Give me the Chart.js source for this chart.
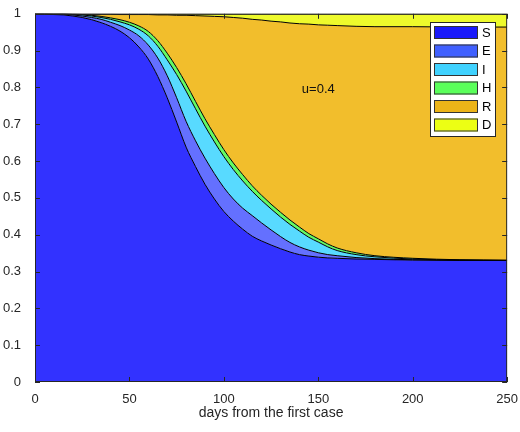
<!DOCTYPE html>
<html>
<head>
<meta charset="utf-8">
<script src="https://cdn.jsdelivr.net/npm/chart.js@4.4.0/dist/chart.umd.min.js"></script>
<style>
  html, body { margin: 0; padding: 0; background: #fff; }
  #wrap { width: 520px; height: 432px; }
</style>
</head>
<body>
<div id="wrap"><canvas id="seirChart" width="520" height="432"></canvas></div>
<script>
// days since first case
var days = [0, 5, 10, 15, 20, 25, 30, 35, 40, 45, 50, 55, 60, 65, 70, 75, 80, 85, 90, 95, 100,
            105, 110, 115, 120, 125, 130, 135, 140, 145, 150, 155, 160, 170, 180, 200, 225, 250];

// population fractions per compartment (stacked bottom to top)
var susceptible = [0.999, 0.999, 0.998, 0.997, 0.994, 0.990, 0.984, 0.976, 0.966, 0.953, 0.935, 0.910, 0.877, 0.830, 0.772, 0.706, 0.638, 0.585, 0.537, 0.497, 0.463,
                   0.437, 0.415, 0.396, 0.383, 0.372, 0.362, 0.353, 0.346, 0.342, 0.339, 0.337, 0.336, 0.334, 0.333, 0.331, 0.330, 0.330];
var exposed     = [0.001, 0.001, 0.001, 0.002, 0.003, 0.004, 0.006, 0.009, 0.011, 0.015, 0.021, 0.030, 0.038, 0.050, 0.060, 0.066, 0.070, 0.070, 0.071, 0.069, 0.065,
                   0.060, 0.057, 0.056, 0.049, 0.041, 0.033, 0.026, 0.021, 0.016, 0.012, 0.009, 0.007, 0.004, 0.002, 0.001, 0.001, 0];
var infected    = [0, 0, 0.001, 0.001, 0.001, 0.003, 0.004, 0.005, 0.008, 0.010, 0.014, 0.018, 0.025, 0.032, 0.043, 0.063, 0.082, 0.087, 0.087, 0.086, 0.084,
                   0.080, 0.074, 0.066, 0.061, 0.057, 0.053, 0.049, 0.043, 0.035, 0.029, 0.021, 0.014, 0.008, 0.005, 0.002, 0, 0];
var hospital    = [0, 0, 0, 0, 0.001, 0.001, 0.002, 0.003, 0.004, 0.006, 0.007, 0.009, 0.012, 0.015, 0.018, 0.019, 0.020, 0.020, 0.020, 0.020, 0.019,
                   0.018, 0.017, 0.015, 0.014, 0.013, 0.013, 0.012, 0.011, 0.010, 0.009, 0.008, 0.007, 0.005, 0.003, 0.002, 0.001, 0.001];
var recovered   = [0, 0, 0, 0, 0.001, 0.001, 0.003, 0.006, 0.010, 0.014, 0.021, 0.031, 0.046, 0.070, 0.104, 0.142, 0.186, 0.233, 0.279, 0.321, 0.361,
                   0.395, 0.425, 0.452, 0.476, 0.497, 0.517, 0.535, 0.552, 0.569, 0.581, 0.594, 0.604, 0.615, 0.622, 0.629, 0.632, 0.633];
var dead        = [0, 0, 0, 0, 0, 0.001, 0.001, 0.001, 0.001, 0.002, 0.002, 0.002, 0.002, 0.003, 0.003, 0.004, 0.004, 0.005, 0.006, 0.007, 0.008,
                   0.010, 0.012, 0.015, 0.017, 0.020, 0.022, 0.025, 0.027, 0.028, 0.030, 0.031, 0.032, 0.034, 0.035, 0.035, 0.036, 0.036];

var seriesNames = ['S', 'E', 'I', 'H', 'R', 'D'];
var xTicks = [0, 50, 100, 150, 200, 250];
var yTicks = [0, 0.1, 0.2, 0.3, 0.4, 0.5, 0.6, 0.7, 0.8, 0.9, 1];
var note = 'u=0.4';

var fills    = ['rgb(50,50,255)', 'rgb(100,112,255)', 'rgb(88,218,255)', 'rgb(100,250,100)', 'rgb(242,190,44)', 'rgb(238,250,44)'];
var swatches = ['rgb(26,26,250)', 'rgb(64,96,255)', 'rgb(64,210,255)', 'rgb(90,255,90)', 'rgb(236,180,24)', 'rgb(236,255,20)'];

function pts(arr) {
    return days.map(function(d, i) { return { x: d, y: arr[i] }; });
}

var allSeries = [susceptible, exposed, infected, hospital, recovered, dead];
var datasets = allSeries.map(function(arr, k) {
    return {
        label: seriesNames[k],
        data: pts(arr),
        backgroundColor: fills[k],
        borderColor: '#000',
        borderWidth: 1,
        pointRadius: 0,
        cubicInterpolationMode: 'monotone',
        fill: k === 0 ? 'origin' : '-1'
    };
});

var fontFam = '"Liberation Sans", Arial, Helvetica, sans-serif';

// MATLAB-like box, inward ticks, legend and annotation
var decor = {
    id: 'decor',
    afterDatasetsDraw: function(chart) {
        var ctx = chart.ctx;
        var a = chart.chartArea;
        var xs = chart.scales.x, ys = chart.scales.y;
        ctx.save();
        ctx.strokeStyle = '#262626';
        ctx.lineWidth = 1;
        xTicks.forEach(function(t) {
            var px = Math.round(xs.getPixelForValue(t)) + 0.5;
            ctx.beginPath();
            ctx.moveTo(px, a.bottom); ctx.lineTo(px, a.bottom - 5);
            ctx.moveTo(px, a.top); ctx.lineTo(px, a.top + 5);
            ctx.stroke();
        });
        yTicks.forEach(function(t) {
            var py = Math.round(ys.getPixelForValue(t)) + 0.5;
            ctx.beginPath();
            ctx.moveTo(a.left, py); ctx.lineTo(a.left + 5, py);
            ctx.moveTo(a.right, py); ctx.lineTo(a.right - 5, py);
            ctx.stroke();
        });
        ctx.strokeRect(a.left + 0.5, a.top + 0.5, a.right - a.left - 1, a.bottom - a.top - 1);

        // annotation
        ctx.fillStyle = '#111';
        ctx.font = '13px ' + fontFam;
        ctx.textAlign = 'center';
        ctx.textBaseline = 'middle';
        ctx.fillText(note, xs.getPixelForValue(150), ys.getPixelForValue(0.795));

        // legend box
        var lx = 430, ly = 22, lw = 65, rowH = 18.5;
        var lh = rowH * seriesNames.length + 3;
        ctx.fillStyle = '#fff';
        ctx.fillRect(lx, ly, lw, lh);
        ctx.strokeStyle = '#262626';
        ctx.strokeRect(lx + 0.5, ly + 0.5, lw, lh);
        ctx.textAlign = 'left';
        ctx.font = '13px ' + fontFam;
        seriesNames.forEach(function(name, k) {
            var y0 = ly + 4 + k * rowH;
            ctx.fillStyle = swatches[k];
            ctx.fillRect(lx + 4, y0, 44, 13);
            ctx.strokeStyle = '#333';
            ctx.strokeRect(lx + 4.5, y0 + 0.5, 43, 12);
            ctx.fillStyle = '#000';
            ctx.fillText(name, lx + 52, y0 + 7);
        });
        ctx.restore();
    }
};

var ctx = document.getElementById('seirChart');
new Chart(ctx, {
    type: 'line',
    data: { datasets: datasets },
    options: {
        responsive: false,
        animation: false,
        layout: { padding: { top: 10, right: 10, left: 0, bottom: 0 } },
        plugins: {
            legend: { display: false },
            tooltip: { enabled: false }
        },
        scales: {
            x: {
                type: 'linear',
                min: 0,
                max: 250,
                grid: { display: false },
                border: { display: false },
                afterFit: function(s) { s.height = 50; },
                afterBuildTicks: function(s) { s.ticks = xTicks.map(function(v) { return { value: v }; }); },
                ticks: { color: '#262626', font: { size: 13, family: fontFam }, padding: 2, maxRotation: 0 },
                title: { display: true, text: 'days from the first case', color: '#262626', font: { size: 14, family: fontFam }, padding: { top: 0, bottom: 10 } }
            },
            y: {
                stacked: true,
                min: 0,
                max: 1,
                grid: { display: false },
                border: { display: false },
                afterFit: function(s) { s.width = 35; },
                afterBuildTicks: function(s) { s.ticks = yTicks.map(function(v) { return { value: v }; }); },
                ticks: {
                    color: '#262626',
                    font: { size: 13, family: fontFam },
                    padding: 6,
                    callback: function(v) { return String(Math.round(v * 10) / 10); }
                }
            }
        }
    },
    plugins: [decor]
});
</script>
</body>
</html>
